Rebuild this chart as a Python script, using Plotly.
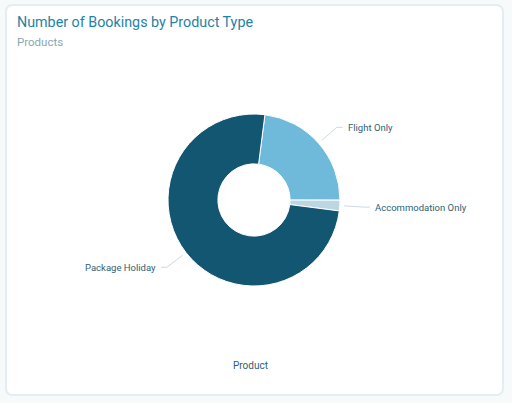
import math
import plotly.graph_objects as go

labels = ["Flight Only", "Accommodation Only", "Package Holiday"]
values = [1150, 100, 3750]
colors = ["#6fb9da", "#bcd6e2", "#135671"]
title_text = "Number of Bookings by Product Type"
subtitle_text = "Products"
axis_label = "Product"
start_angle = 7.3  # degrees clockwise from 12 o'clock

W, H = 512, 403
cx, cy, R = 254, 200, 86

fig = go.Figure()
fig.add_trace(go.Pie(
    labels=labels, values=values, sort=False, direction="clockwise",
    rotation=start_angle, hole=0.42, textinfo="none", hoverinfo="label+value",
    marker=dict(colors=colors, line=dict(color="white", width=1)),
    domain=dict(x=[(cx - R) / W, (cx + R) / W], y=[1 - (cy + R) / H, 1 - (cy - R) / H]),
    showlegend=False,
))

def px(x, y):
    return x / W, 1 - y / H

shapes = []
x0, y0, x1, y1, r = 6, 5, 503, 395, 7
def P(x, y):
    a, b = px(x, y)
    return f"{a:.5f},{b:.5f}"
card = (f"M{P(x0 + r, y0)} L{P(x1 - r, y0)} Q{P(x1, y0)} {P(x1, y0 + r)} "
        f"L{P(x1, y1 - r)} Q{P(x1, y1)} {P(x1 - r, y1)} L{P(x0 + r, y1)} "
        f"Q{P(x0, y1)} {P(x0, y1 - r)} L{P(x0, y0 + r)} Q{P(x0, y0)} {P(x0 + r, y0)} Z")
shapes.append(dict(type="path", xref="paper", yref="paper", path=card,
                   fillcolor="white", line=dict(color="#e3edf2", width=2), layer="below"))

annotations = []
total = sum(values)
acc = 0
for lab, v in zip(labels, values):
    mid = start_angle + (acc + v / 2) / total * 360
    acc += v
    t = math.radians(mid)
    sx, sy = cx + 1.05 * R * math.sin(t), cy - 1.05 * R * math.cos(t)
    ex, ey = cx + 1.28 * R * math.sin(t), cy - 1.28 * R * math.cos(t)
    right = math.sin(t) >= 0
    hx = ex + (6 if right else -6)
    a, b = px(sx, sy); c, d = px(ex, ey); e, f = px(hx, ey)
    shapes.append(dict(type="path", xref="paper", yref="paper",
                       path=f"M{a:.5f},{b:.5f} L{c:.5f},{d:.5f} L{e:.5f},{f:.5f}",
                       line=dict(color="#cfd9de", width=1)))
    annotations.append(dict(text=lab, x=e, y=f, xref="paper", yref="paper",
                            xanchor="left" if right else "right", yanchor="middle",
                            xshift=3 if right else -3, showarrow=False,
                            font=dict(family="Roboto", size=9.5, color="#2d5f78")))

annotations.append(dict(text=title_text, x=15 / W, y=1 - 12 / H, xref="paper", yref="paper",
                        xanchor="left", yanchor="top", showarrow=False,
                        font=dict(family="Roboto", size=14.3, color="#1e83a6")))
annotations.append(dict(text=subtitle_text, x=15 / W, y=1 - 33 / H, xref="paper", yref="paper",
                        xanchor="left", yanchor="top", showarrow=False,
                        font=dict(family="Roboto", size=11.5, color="#8aa6b2")))
annotations.append(dict(text=axis_label, x=250 / W, y=1 - 365 / H, xref="paper", yref="paper",
                        xanchor="center", yanchor="middle", showarrow=False,
                        font=dict(family="Roboto", size=10, color="#2d5f78")))

fig.update_layout(width=W, height=H, margin=dict(l=0, r=0, t=0, b=0),
                  paper_bgcolor="#f7fafb", plot_bgcolor="white",
                  shapes=shapes, annotations=annotations)
fig.write_html("out.html", config={"displayModeBar": False},
               post_script="document.body.style.margin='0px';document.body.style.overflow='hidden';")
